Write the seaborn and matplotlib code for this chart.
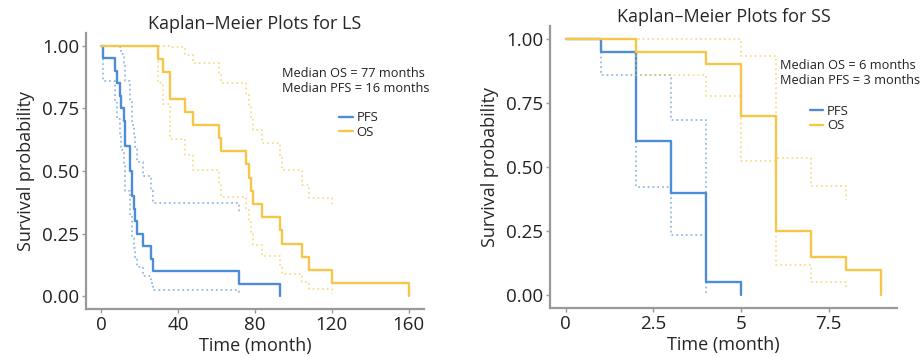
import matplotlib
matplotlib.use("Agg")
import matplotlib.pyplot as plt
import numpy as np
import pandas as pd
import seaborn as sns

# ---- LS panel ----
pfs_ls_time = [0, 0.7, 6.9, 8.2, 9.5, 10.2, 12.0, 12.5, 14.8, 15.1, 16.0, 16.8, 17.7, 18.6, 21.7, 25.9, 26.7, 71.9, 92.9]
pfs_ls_surv = [1, 0.95, 0.90, 0.85, 0.80, 0.75, 0.70, 0.60, 0.55, 0.50, 0.40, 0.35, 0.30, 0.25, 0.20, 0.15, 0.10, 0.05, 0]
pfs_ls_upper = [1, 1, 1, 1, 0.996, 0.966, 0.932, 0.858, 0.817, 0.775, 0.685, 0.636, 0.586, 0.534, 0.481, 0.426, 0.372, 0.337]
pfs_ls_lower = [1, 0.859, 0.778, 0.707, 0.643, 0.582, 0.525, 0.419, 0.370, 0.323, 0.234, 0.193, 0.154, 0.117, 0.083, 0.053, 0.027, 0.007]

os_ls_time = [0, 29.3, 31.9, 35.9, 43.7, 47.7, 61.1, 62.3, 75.5, 76.7, 78.0, 78.8, 83.7, 92.9, 93.8, 104.2, 108.0, 120.1, 160]
os_ls_surv = [1, 0.947, 0.895, 0.789, 0.737, 0.684, 0.632, 0.579, 0.526, 0.474, 0.421, 0.368, 0.316, 0.263, 0.211, 0.158, 0.105, 0.053, 0]
os_ls_upper = [1, 1, 1, 0.996, 0.964, 0.929, 0.890, 0.850, 0.806, 0.761, 0.713, 0.664, 0.612, 0.559, 0.503, 0.446, 0.391, 0.355]
os_ls_lower = [1, 0.852, 0.767, 0.626, 0.563, 0.504, 0.448, 0.395, 0.344, 0.295, 0.249, 0.205, 0.163, 0.124, 0.088, 0.056, 0.028, 0.008]

# ---- SS panel ----
pfs_ss_time = [0, 1, 2, 3, 4, 5]
pfs_ss_surv = [1, 0.95, 0.60, 0.40, 0.05, 0]
pfs_ss_upper = [1, 1, 0.858, 0.684, 0.338]
pfs_ss_lower = [1, 0.859, 0.420, 0.234, 0.007]

os_ss_time = [0, 2, 4, 5, 6, 7, 8, 9]
os_ss_surv = [1, 0.95, 0.90, 0.70, 0.25, 0.15, 0.10, 0]
os_ss_upper = [1, 1, 1, 0.933, 0.534, 0.426, 0.372]
os_ss_lower = [1, 0.859, 0.778, 0.525, 0.117, 0.053, 0.027]

ls_ticks = [0, 40, 80, 120, 160]
ss_ticks = [0, 2.5, 5, 7.5]
ss_ticklabels = ["0", "2.5", "5", "7.5"]
y_ticks = [0, 0.25, 0.5, 0.75, 1.0]
y_ticklabels = ["0.00", "0.25", "0.50", "0.75", "1.00"]

BLUE = "#4d8dd6"
YELLOW = "#f6c648"

sns.set_theme(style="ticks")
plt.rcParams["font.family"] = ["Open Sans", "DejaVu Sans"]


def km(ax, t, s, up, lo, color, label):
    ci_t = t[:len(up)]
    sns.lineplot(x=ci_t, y=up, ax=ax, color=color, lw=1.3, ls=":", alpha=0.6,
                 drawstyle="steps-post", legend=False)
    sns.lineplot(x=ci_t, y=lo, ax=ax, color=color, lw=1.3, ls=":", alpha=0.6,
                 drawstyle="steps-post", legend=False)
    sns.lineplot(x=t, y=s, ax=ax, color=color, lw=1.7, drawstyle="steps-post", label=label)


def style(ax, title):
    ax.set_title(title, fontsize=13, pad=3)
    ax.set_ylabel("Survival probability", fontsize=13, labelpad=5)
    ax.set_xlabel("Time (month)", fontsize=13, labelpad=2)
    ax.set_yticks(y_ticks)
    ax.set_yticklabels(y_ticklabels)
    ax.set_ylim(-0.05, 1.05)
    for side in ["top", "right"]:
        ax.spines[side].set_visible(False)
    for side in ["left", "bottom"]:
        ax.spines[side].set_color("#999999")
        ax.spines[side].set_linewidth(1.6)
    ax.tick_params(colors="#999999", labelcolor="#222222", labelsize=13.5, length=3, width=1, pad=2)


fig = plt.figure(figsize=(9.22, 3.57), dpi=100)
ax1 = fig.add_axes([0.0933, 0.1345, 0.3666, 0.773])
ax2 = fig.add_axes([0.5965, 0.1373, 0.3764, 0.79])

km(ax1, pfs_ls_time, pfs_ls_surv, pfs_ls_upper, pfs_ls_lower, BLUE, "PFS")
km(ax1, os_ls_time, os_ls_surv, os_ls_upper, os_ls_lower, YELLOW, "OS")
style(ax1, "Kaplan\u2013Meier Plots for LS")
ax1.set_xlim(-8, 168)
ax1.set_xticks(ls_ticks)
ax1.text(94, 0.860, "Median OS = 77 months\nMedian PFS = 16 months", fontsize=9.2,
         va="center", ha="left", linespacing=1.2, color="#222222")
ax1.legend(loc="upper left", bbox_to_anchor=(0.73, 0.74), frameon=False, fontsize=9.5,
           handlelength=1.0, handletextpad=0.3, labelspacing=0.1, borderpad=0)

km(ax2, pfs_ss_time, pfs_ss_surv, pfs_ss_upper, pfs_ss_lower, BLUE, "PFS")
km(ax2, os_ss_time, os_ss_surv, os_ss_upper, os_ss_lower, YELLOW, "OS")
style(ax2, "Kaplan\u2013Meier Plots for SS")
ax2.set_xlim(-0.45, 9.45)
ax2.set_xticks(ss_ticks)
ax2.set_xticklabels(ss_ticklabels)
ax2.text(6.1, 0.865, "Median OS = 6 months\nMedian PFS = 3 months", fontsize=9.2,
         va="center", ha="left", linespacing=1.2, color="#222222")
ax2.legend(loc="upper left", bbox_to_anchor=(0.73, 0.743), frameon=False, fontsize=9.5,
           handlelength=1.0, handletextpad=0.3, labelspacing=0.1, borderpad=0)

fig.savefig("out.png", dpi=100)
